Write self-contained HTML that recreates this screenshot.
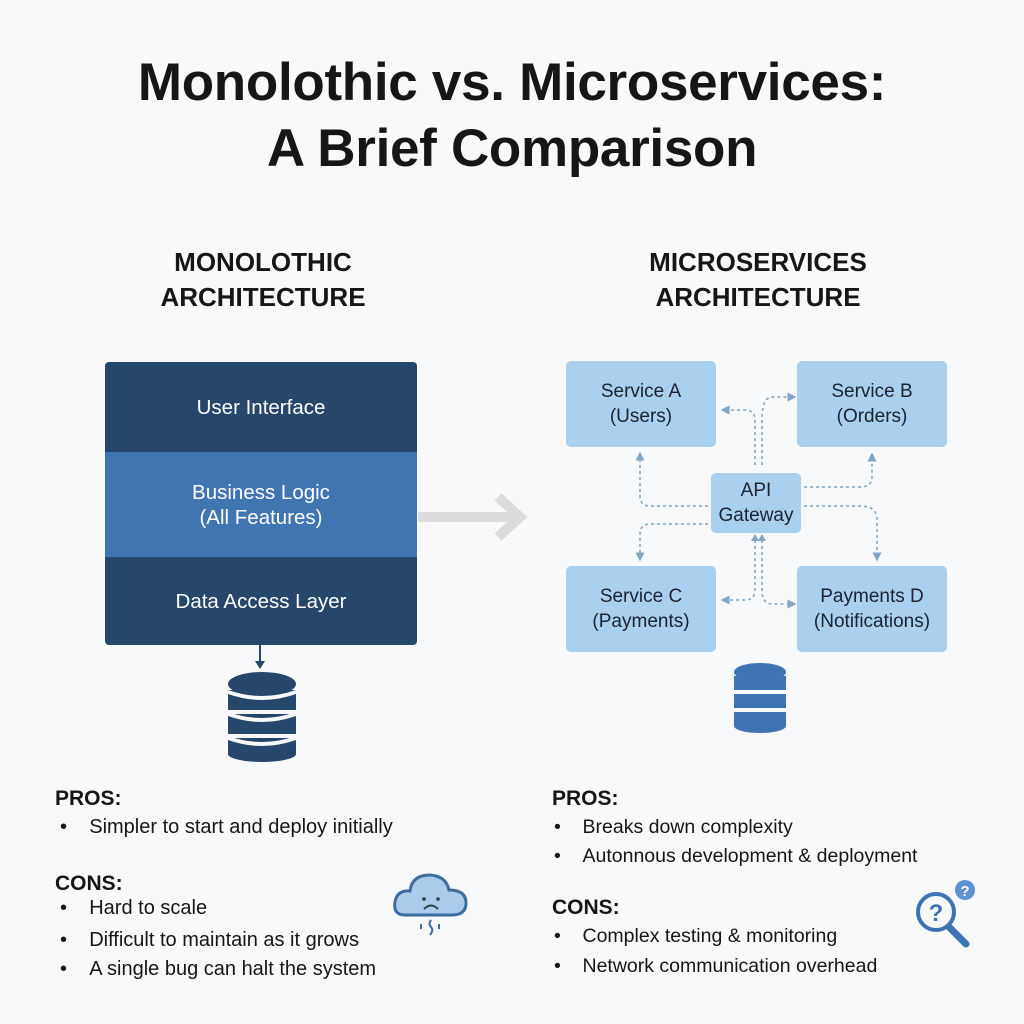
<!DOCTYPE html>
<html><head><meta charset="utf-8"><style>
body{margin:0;width:1024px;height:1024px;background:#f8f9fa;font-family:"Liberation Sans",sans-serif;position:relative;overflow:hidden;color:#161616}
.a{position:absolute}
.t{font-weight:bold;font-size:53px;text-align:center;width:1024px;left:0;letter-spacing:-0.3px}
.h{font-weight:bold;font-size:26px;text-align:center;line-height:35px;width:400px}
.box{position:absolute;display:flex;align-items:center;justify-content:center;text-align:center;font-size:19px;line-height:25px}
.mb{font-size:20.5px}
.sv{background:#a9d0ee;border-radius:5px;color:#1b2230}
.l{font-size:20px}
.r{font-size:19.5px}
.b{font-weight:bold;font-size:21px}
</style></head><body>
<div class="a t" style="top:52px">Monolothic vs. Microservices:</div>
<div class="a t" style="top:118px">A Brief Comparison</div>
<div class="a h" style="left:63px;top:245px">MONOLOTHIC<br>ARCHITECTURE</div>
<div class="a h" style="left:558px;top:245px">MICROSERVICES<br>ARCHITECTURE</div>

<div class="box mb" style="left:105px;top:362px;width:312px;height:90px;background:#27466b;color:#fff;border-radius:4px 4px 0 0">User Interface</div>
<div class="box mb" style="left:105px;top:452px;width:312px;height:105px;background:#3f75b0;color:#fff">Business Logic<br>(All Features)</div>
<div class="box mb" style="left:105px;top:557px;width:312px;height:88px;background:#27466b;color:#fff;border-radius:0 0 4px 4px">Data Access Layer</div>

<svg class="a" style="left:0;top:0" width="1024" height="1024">
<defs><marker id="m" markerWidth="6" markerHeight="6" refX="5" refY="3" orient="auto"><path d="M0,0L6,3L0,6z" fill="#7fa6c6"/></marker></defs>
<line x1="260" y1="645" x2="260" y2="664" stroke="#27466b" stroke-width="2"/>
<path d="M255,661L260,669L265,661z" fill="#27466b"/>
<g fill="#27466b">
<ellipse cx="262" cy="684" rx="34" ry="12"/>
<rect x="228" y="690" width="68" height="20"/><rect x="228" y="714" width="68" height="20"/><rect x="228" y="738" width="68" height="16"/>
<ellipse cx="262" cy="754" rx="34" ry="8"/>
</g>
<g fill="#f8f9fa"><path d="M228,690 Q262,702 296,690 L296,694 Q262,706 228,694z"/><path d="M228,712 Q262,724 296,712 L296,716 Q262,728 228,716z"/><path d="M228,736 Q262,748 296,736 L296,740 Q262,752 228,740z"/></g>
<path d="M418,517H518M498,497L520,517L498,537" stroke="#dcdcdc" stroke-width="10" fill="none"/>
<g fill="#3e74b4">
<ellipse cx="760" cy="672" rx="26" ry="9"/>
<rect x="734" y="676" width="52" height="14"/><rect x="734" y="694" width="52" height="14"/><rect x="734" y="712" width="52" height="14"/>
<ellipse cx="760" cy="726" rx="26" ry="7"/>
</g>
<g stroke="#7fa6c6" stroke-width="1.5" stroke-dasharray="3,3" fill="none" marker-end="url(#m)">
<path d="M755,465V420Q755,410 745,410H722"/>
<path d="M762,465V420Q762,397 772,397H795"/>
<path d="M708,506H650Q640,506 640,496V453"/>
<path d="M804,487H860Q872,487 872,477V454"/>
<path d="M708,524H650Q640,524 640,534V560"/>
<path d="M804,506H860Q877,506 877,520V560"/>
<path d="M755,540V590Q755,600 745,600H722"/>
<path d="M762,540V590Q762,604 772,604H795"/>
</g>
<path d="M751,541L755,534L759,541zM758,541L762,534L766,541z" fill="#7fa6c6"/>
<path d="M405,915 Q393,915 395,902 Q397,890 410,891 Q412,875 430,875 Q446,876 449,890 Q466,890 466,903 Q466,915 452,915Z" fill="#a9ccec" stroke="#3d6d9f" stroke-width="3"/>
<circle cx="424" cy="899" r="1.8" fill="#244"/><circle cx="438" cy="899" r="1.8" fill="#244"/>
<path d="M424,909 Q431,902 438,909" stroke="#244" stroke-width="2" fill="none"/>
<path d="M421,924v5M439,924v5M431,920q-3,4 0,7q3,3 -1,8" stroke="#3d6d9f" stroke-width="2" fill="none"/>
<line x1="948" y1="926" x2="966" y2="944" stroke="#3d73b5" stroke-width="7" stroke-linecap="round"/>
<circle cx="936" cy="912" r="18" fill="#f8f9fa" stroke="#3d73b5" stroke-width="4"/>
<text x="936" y="921" font-size="24" font-weight="bold" fill="#3d73b5" text-anchor="middle" font-family="Liberation Sans">?</text>
<circle cx="965" cy="890" r="10" fill="#5d93d0"/>
<text x="965" y="896" font-size="15" font-weight="bold" fill="#fff" text-anchor="middle" font-family="Liberation Sans">?</text>
</svg>

<div class="box sv" style="left:566px;top:361px;width:150px;height:86px">Service A<br>(Users)</div>
<div class="box sv" style="left:797px;top:361px;width:150px;height:86px">Service B<br>(Orders)</div>
<div class="box sv" style="left:711px;top:473px;width:90px;height:60px">API<br>Gateway</div>
<div class="box sv" style="left:566px;top:566px;width:150px;height:86px">Service C<br>(Payments)</div>
<div class="box sv" style="left:797px;top:566px;width:150px;height:86px">Payments D<br>(Notifications)</div>

<div class="a b" style="left:55px;top:787px">PROS:</div>
<div class="a l" style="left:60px;top:816px">•&nbsp;&nbsp;&nbsp;&nbsp;Simpler to start and deploy initially</div>
<div class="a b" style="left:55px;top:872px">CONS:</div>
<div class="a l" style="left:60px;top:897px">•&nbsp;&nbsp;&nbsp;&nbsp;Hard to scale</div>
<div class="a l" style="left:60px;top:929px">•&nbsp;&nbsp;&nbsp;&nbsp;Difficult to maintain as it grows</div>
<div class="a l" style="left:60px;top:958px">•&nbsp;&nbsp;&nbsp;&nbsp;A single bug can halt the system</div>

<div class="a b" style="left:552px;top:787px">PROS:</div>
<div class="a r" style="left:554px;top:816px">•&nbsp;&nbsp;&nbsp;&nbsp;Breaks down complexity</div>
<div class="a r" style="left:554px;top:845px">•&nbsp;&nbsp;&nbsp;&nbsp;Autonnous development &amp; deployment</div>
<div class="a b" style="left:552px;top:896px">CONS:</div>
<div class="a r" style="left:554px;top:925px">•&nbsp;&nbsp;&nbsp;&nbsp;Complex testing &amp; monitoring</div>
<div class="a r" style="left:554px;top:955px">•&nbsp;&nbsp;&nbsp;&nbsp;Network communication overhead</div>
</body></html>
